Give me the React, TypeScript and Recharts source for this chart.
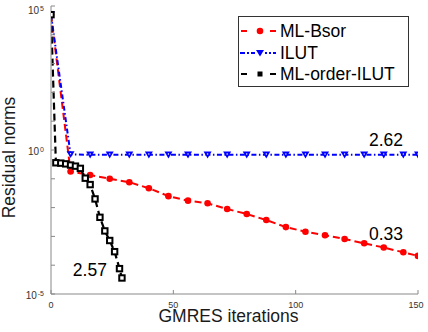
import React from 'react';
import { LineChart, Line, XAxis, YAxis, Legend, ReferenceDot, Label } from 'recharts';

// iteration numbers where markers sit
const bsorIters = [0, 8, 16, 24, 32, 40, 48, 56, 64, 72, 80, 88, 96, 104, 112, 120, 128, 136, 144, 150];
const bsorNorms = [5e4, 1.8e-1, 1.35e-1, 1.0e-1, 7.6e-2, 4.7e-2, 2.5e-2, 1.74e-2, 1.41e-2, 8.9e-3, 6.0e-3, 3.7e-3, 2.1e-3, 1.45e-3, 1.1e-3, 8.1e-4, 5.75e-4, 4.1e-4, 2.8e-4, 2.1e-4];

const ilutIters = [0, 8, 16, 24, 32, 40, 48, 56, 64, 72, 80, 88, 96, 104, 112, 120, 128, 136, 144, 150];
const ilutNorms = [5e4, 0.7, 0.68, 0.68, 0.68, 0.68, 0.68, 0.68, 0.68, 0.68, 0.68, 0.68, 0.68, 0.68, 0.68, 0.68, 0.68, 0.68, 0.68, 0.68];

const orderIters = [0, 2, 4, 6, 8, 10, 12, 14, 16, 18, 20, 22, 24, 26, 28, 29];
const orderNorms = [5e4, 0.36, 0.35, 0.33, 0.3, 0.275, 0.23, 0.105, 0.063, 0.02, 4.6e-3, 1.55e-3, 7.2e-4, 2.95e-4, 7.6e-5, 3.6e-5];

const xTicks = [0, 50, 100, 150];
const yTicks = [1e-5, 1e-4, 1e-3, 1e-2, 1e-1, 1, 1e1, 1e2, 1e3, 1e4, 1e5];
const yLabelled = [-5, 0, 5];

// convergence rate annotations
const rateLabels = ['2.62', '0.33', '2.57'];
const rateX = [136.9, 136.9, 15.9];
const rateY = [2.3, 1.2e-3, 7.1e-5];

const FONT = '"Liberation Sans", Arial, Helvetica, sans-serif';
const AXIS = '#888888';

const toPoints = (xs: number[], ys: number[]) => xs.map((x, i) => ({ x, y: ys[i] }));

const XTick = (props: any) => {
  const { x, y, payload } = props;
  return (
    <text x={x} y={y + 10} textAnchor="middle" fontSize={9} fill="#333" fontFamily={FONT}>
      {payload.value}
    </text>
  );
};

const YTick = (props: any) => {
  const { x, y, payload } = props;
  const exp = Math.round(Math.log10(payload.value));
  if (!yLabelled.includes(exp)) return <g />;
  return (
    <text x={x} y={y + 5} textAnchor="end" fill="#333" fontFamily={FONT}>
      <tspan fontSize={10}>10</tspan>
      <tspan fontSize={7} dy={-3.5} dx={1}>{exp}</tspan>
    </text>
  );
};

const CircleDot = (props: any) => {
  const { cx, cy, index } = props;
  return <circle key={`c-${index}`} cx={cx} cy={cy} r={3.3} fill="#ff0000" />;
};

const TriDot = (props: any) => {
  const { cx, cy, index } = props;
  return (
    <g key={`t-${index}`}>
      <polygon points={`${cx - 4},${cy - 3.2} ${cx + 4},${cy - 3.2} ${cx},${cy + 3.6}`} fill="#0000ff" />
      <circle cx={cx} cy={cy - 0.8} r={0.7} fill="#fff" />
    </g>
  );
};

const SquareDot = (props: any) => {
  const { cx, cy, index } = props;
  return (
    <rect key={`s-${index}`} x={cx - 2.7} y={cy - 2.7} width={5.4} height={5.4} fill="#fff" stroke="#000" strokeWidth={2} />
  );
};

const legendRows = [
  { name: 'ML-Bsor', color: '#ff0000', kind: 'circle' },
  { name: 'ILUT', color: '#0000ff', kind: 'tri' },
  { name: 'ML-order-ILUT', color: '#000000', kind: 'square' },
];

const renderLegend = () => (
  <div
    style={{
      position: 'relative',
      width: 171,
      height: 71,
      boxSizing: 'border-box',
      border: '1px solid #333',
      background: '#fff',
      fontFamily: FONT,
    }}
  >
    {legendRows.map((r, i) => {
      const top = [13.6, 36, 57][i] - 11;
      return (
        <div key={r.name} style={{ position: 'absolute', left: 0, top, height: 22, display: 'flex', alignItems: 'center' }}>
          <svg width={40} height={22} style={{ display: 'block' }}>
            {r.kind === 'tri' ? (
              <>
                <line x1={1} y1={11} x2={37} y2={11} stroke={r.color} strokeWidth={2} strokeDasharray="5 2 2 2" />
                <rect x={16} y={6} width={10} height={10} fill="#fff" />
                <polygon points="17,8 25,8 21,14.6" fill={r.color} />
              </>
            ) : (
              <>
                <line x1={2} y1={11} x2={8} y2={11} stroke={r.color} strokeWidth={2} />
                <line x1={31} y1={11} x2={37} y2={11} stroke={r.color} strokeWidth={2} />
                {r.kind === 'circle' ? (
                  <circle cx={21} cy={11} r={3.3} fill={r.color} />
                ) : (
                  <rect x={18.5} y={8.5} width={5} height={5} fill={r.color} />
                )}
              </>
            )}
          </svg>
          <span style={{ fontSize: 17.5, lineHeight: '22px', color: '#000', marginLeft: 1 }}>{r.name}</span>
        </div>
      );
    })}
  </div>
);

export default function App() {
  return (
    <div style={{ position: 'absolute', left: 0, top: 0, background: '#fff' }}>
      <LineChart width={428} height={332} margin={{ top: 6, right: 10, bottom: 0, left: 1 }}>
        <XAxis
          dataKey="x"
          type="number"
          domain={[0, 150]}
          ticks={xTicks}
          allowDataOverflow
          height={38}
          stroke={AXIS}
          tickSize={-4}
          tickMargin={8}
          tick={<XTick />}
        >
          <Label
            content={(p: any) => {
              const vb = p.viewBox;
              return (
                <text x={vb.x + vb.width / 2 - 6} y={322} textAnchor="middle" fontSize={17.5} fill="#1a1a1a" fontFamily={FONT}>
                  GMRES iterations
                </text>
              );
            }}
          />
        </XAxis>
        <XAxis
          xAxisId="top"
          orientation="top"
          dataKey="x"
          type="number"
          domain={[0, 150]}
          ticks={xTicks}
          allowDataOverflow
          height={0}
          stroke={AXIS}
          tickSize={-4}
          tick={false}
        />
        <YAxis
          type="number"
          scale="log"
          domain={[1e-5, 1e5]}
          ticks={yTicks}
          allowDataOverflow
          width={50}
          stroke={AXIS}
          tickSize={-4}
          tickMargin={11}
          tick={<YTick />}
        >
          <Label
            content={() => (
              <text
                x={15}
                y={157.5}
                transform="rotate(-90, 15, 157.5)"
                textAnchor="middle"
                fontSize={17.5}
                fill="#1a1a1a"
                fontFamily={FONT}
              >
                Residual norms
              </text>
            )}
          />
        </YAxis>
        <YAxis
          yAxisId="right"
          orientation="right"
          type="number"
          scale="log"
          domain={[1e-5, 1e5]}
          ticks={yTicks}
          allowDataOverflow
          width={0}
          stroke={AXIS}
          tickSize={-4}
          tick={false}
        />
        <Legend
          layout="vertical"
          align="center"
          verticalAlign="middle"
          content={renderLegend}
          wrapperStyle={{ left: 238, top: 16, width: 171, height: 71 }}
        />
        <Line
          data={toPoints(bsorIters, bsorNorms)}
          dataKey="y"
          name="ML-Bsor"
          stroke="#ff0000"
          strokeWidth={2}
          strokeDasharray="7 4"
          dot={CircleDot}
          activeDot={false}
          isAnimationActive={false}
        />
        <Line
          data={toPoints(ilutIters, ilutNorms)}
          dataKey="y"
          name="ILUT"
          stroke="#0000ff"
          strokeWidth={2}
          strokeDasharray="5 2.5 1.5 2.5"
          dot={TriDot}
          activeDot={false}
          isAnimationActive={false}
        />
        <Line
          data={toPoints(orderIters, orderNorms)}
          dataKey="y"
          name="ML-order-ILUT"
          stroke="#000000"
          strokeWidth={2.2}
          strokeDasharray="7 4"
          dot={SquareDot}
          activeDot={false}
          isAnimationActive={false}
        />
        {rateLabels.map((t, i) => (
          <ReferenceDot
            key={t}
            x={rateX[i]}
            y={rateY[i]}
            r={0}
            fill="none"
            stroke="none"
            label={{ value: t, position: 'center', fontSize: 17.5, fill: '#000', fontFamily: FONT }}
          />
        ))}
      </LineChart>
    </div>
  );
}
